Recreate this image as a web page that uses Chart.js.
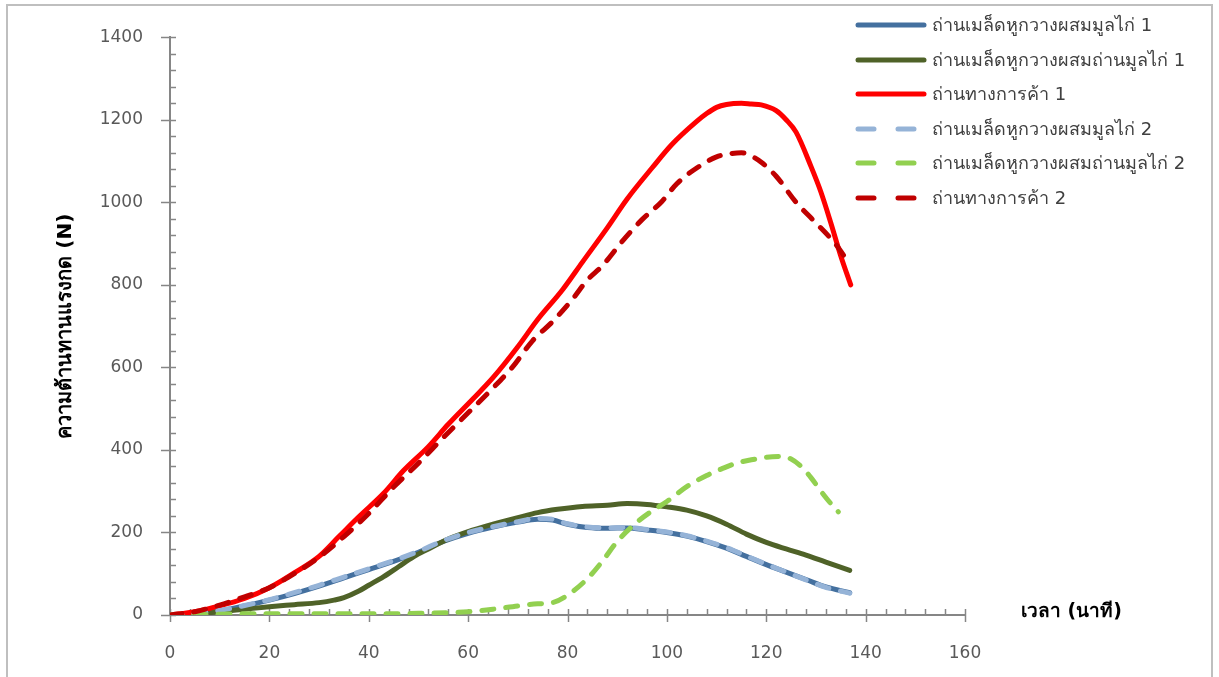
<!DOCTYPE html>
<html>
<head>
<meta charset="utf-8">
<script src="https://cdn.jsdelivr.net/npm/chart.js@4.4.1/dist/chart.umd.min.js"></script>
<style>
  html, body { margin: 0; padding: 0; background: #fff; }
  #wrap { position: relative; width: 1219px; height: 677px; }
</style>
</head>
<body>
<div id="wrap"><canvas id="c"></canvas></div>
<script>
// Compressive strength over time for three charcoal types, two runs each.
// Values (minutes, newtons).

const SERIES_NAMES = [
  "ถ่านเมล็ดหูกวางผสมมูลไก่ 1",
  "ถ่านเมล็ดหูกวางผสมถ่านมูลไก่ 1",
  "ถ่านทางการค้า 1",
  "ถ่านเมล็ดหูกวางผสมมูลไก่ 2",
  "ถ่านเมล็ดหูกวางผสมถ่านมูลไก่ 2",
  "ถ่านทางการค้า 2",
];

const X_TICKS = [0, 20, 40, 60, 80, 100, 120, 140, 160];
const Y_TICKS = [0, 200, 400, 600, 800, 1000, 1200, 1400];

// run 1 — chicken-manure blend (blue)
const T_BLUE1 = [0, 5, 10, 15, 20, 25, 30, 35, 40, 45, 50, 55, 60, 65, 70, 74, 77, 80, 84, 88, 92, 96, 100, 104, 108, 112, 116, 120, 124, 128, 132, 136.8];
const V_BLUE1 = [0, 3, 10, 22, 36, 52, 70, 90, 110, 130, 152, 178, 198, 213, 225, 232, 230, 220, 212, 210, 211, 206, 200, 191, 178, 162, 142, 122, 104, 86, 68, 54];

// run 1 — manure-charcoal blend (olive)
const T_GREEN1 = [0, 5, 10, 15, 20, 25, 30, 33, 35, 38, 40, 43, 46, 49, 52, 56, 60, 65, 70, 74, 78, 83, 88, 92, 96, 100, 104, 108, 112, 116, 120, 124, 128, 132, 136.8];
const V_GREEN1 = [0, 3, 8, 14, 20, 25, 30, 36, 42, 58, 72, 93, 117, 141, 160, 184, 202, 220, 236, 248, 256, 263, 266, 270, 268, 262, 254, 240, 220, 196, 176, 160, 145, 128, 108];

// run 1 — commercial charcoal (red)
const T_RED1 = [0, 5, 10, 15, 20, 25, 30, 34, 38, 43, 47, 52, 56, 61, 65, 70, 74, 79, 83, 88, 92, 97, 101, 106, 108, 110, 112, 115, 117, 119, 122, 124, 126, 129, 131, 133, 135, 137];
const V_RED1 = [0, 8, 22, 40, 66, 102, 142, 190, 238, 295, 350, 408, 462, 524, 575, 650, 716, 788, 855, 938, 1008, 1083, 1140, 1196, 1215, 1230, 1237, 1240, 1238, 1236, 1222, 1200, 1170, 1087, 1025, 950, 870, 800];

// run 2 — chicken-manure blend (light blue)
const T_BLUE2 = [0, 5, 10, 15, 20, 25, 30, 35, 40, 45, 50, 55, 60, 65, 70, 74, 77, 80, 84, 88, 92, 96, 100, 104, 108, 112, 116, 120, 124, 128, 132, 136.8];
const V_BLUE2 = [0, 3, 11, 23, 37, 54, 72, 92, 112, 132, 154, 180, 200, 214, 226, 234, 232, 221, 213, 211, 212, 207, 201, 192, 179, 163, 143, 123, 104, 85, 67, 53];

// run 2 — manure-charcoal blend (light green)
const T_GREEN2 = [0, 5, 10, 15, 20, 30, 40, 50, 60, 65, 70, 74, 77, 80, 84, 87, 90, 94, 97, 100, 104, 108, 111, 114, 117, 120, 123, 125, 127, 129, 131, 133, 134.5];
const V_GREEN2 = [0, 1, 2, 3, 3, 3, 3, 4, 8, 14, 22, 27, 30, 48, 88, 130, 178, 225, 252, 275, 311, 338, 354, 368, 376, 382, 384, 378, 360, 333, 300, 270, 250];

// run 2 — commercial charcoal (dark red)
const T_RED2 = [0, 5, 10, 15, 20, 25, 30, 35, 40, 45, 50, 55, 60, 65, 69, 73, 77, 81, 84, 87, 91, 95, 99, 102, 106, 110, 113, 115, 117, 119, 122, 126, 130, 134, 136.5];
const V_RED2 = [0, 8, 24, 44, 66, 100, 140, 190, 246, 310, 368, 430, 490, 550, 602, 665, 711, 765, 812, 846, 905, 958, 1002, 1045, 1083, 1110, 1118, 1120, 1112, 1097, 1063, 1000, 950, 898, 855];

const COLORS = ["#44709F", "#4F6228", "#FF0000", "#95B3D7", "#92D050", "#C00000"];
const DASHED = [false, false, false, true, true, true];

const pts = (ts, vs) => ts.map((t, i) => ({ x: t, y: vs[i] }));
const SERIES_DATA = [
  pts(T_BLUE1, V_BLUE1),
  pts(T_GREEN1, V_GREEN1),
  pts(T_RED1, V_RED1),
  pts(T_BLUE2, V_BLUE2),
  pts(T_GREEN2, V_GREEN2),
  pts(T_RED2, V_RED2),
];

const AXIS_GRAY = "#868686";
const LABEL_GRAY = "#595959";
const FONT = "'DejaVu Sans', Tahoma, sans-serif";

// minor/major tick marks that cross the axis line, Excel style
const tickMarks = {
  id: "tickMarks",
  beforeDatasetsDraw(chart) {
    const { ctx, scales: { x, y } } = chart;
    ctx.save();
    ctx.strokeStyle = AXIS_GRAY;
    ctx.lineWidth = 1.5;
    const x0 = x.getPixelForValue(0);
    for (let v = 0; v <= 1400; v += 40) {
      const py = Math.round(y.getPixelForValue(v)) + 0.5;
      const major = v % 200 === 0;
      ctx.beginPath();
      ctx.moveTo(x0 - (major ? 9 : 0), py);
      ctx.lineTo(x0 + 6, py);
      ctx.stroke();
    }
    const y0 = y.getPixelForValue(0);
    for (let t = 0; t <= 160; t += 4) {
      const px = Math.round(x.getPixelForValue(t)) + 0.5;
      const major = t % 20 === 0;
      ctx.beginPath();
      ctx.moveTo(px, y0 - 6);
      ctx.lineTo(px, y0 + (major ? 7 : 0));
      ctx.stroke();
    }
    ctx.restore();
  },
};

// frame, x-axis caption beside the axis end, and the legend in the top-right
const decorations = {
  id: "decorations",
  beforeDraw(chart) {
    const { ctx } = chart;
    ctx.save();
    ctx.fillStyle = "#fff";
    ctx.fillRect(0, 0, chart.width, chart.height);
    ctx.strokeStyle = "#BFBFBF";
    ctx.lineWidth = 2;
    ctx.strokeRect(7, 5, 1205, 700);
    ctx.restore();
  },
  afterDraw(chart) {
    const { ctx, scales: { x, y } } = chart;
    ctx.save();
    ctx.fillStyle = "#000";
    ctx.font = "bold 19px " + FONT;
    ctx.textBaseline = "middle";
    ctx.fillText("เวลา (นาที)", x.getPixelForValue(160) + 56, y.getPixelForValue(0) - 3);

    const rowY = [25, 60, 94, 129, 163, 198];
    ctx.font = "18px " + FONT;
    SERIES_NAMES.forEach((name, i) => {
      ctx.strokeStyle = COLORS[i];
      ctx.lineWidth = 5;
      ctx.lineCap = "round";
      ctx.setLineDash(DASHED[i] ? [16, 24] : []);
      ctx.beginPath();
      ctx.moveTo(858, rowY[i]);
      ctx.lineTo(924, rowY[i]);
      ctx.stroke();
      ctx.setLineDash([]);
      ctx.fillStyle = "#404040";
      ctx.fillText(name, 932, rowY[i] + 1);
    });
    ctx.restore();
  },
};

new Chart(document.getElementById("c"), {
  type: "line",
  data: {
    datasets: SERIES_NAMES.map((name, i) => ({
      label: name,
      data: SERIES_DATA[i],
      borderColor: COLORS[i],
      backgroundColor: COLORS[i],
      borderWidth: 5,
      borderDash: DASHED[i] ? [12, 12] : [],
      borderCapStyle: "round",
      pointRadius: 0,
      fill: false,
      cubicInterpolationMode: "monotone",
      order: SERIES_NAMES.length - i, // later series drawn on top, like the original
    })),
  },
  options: {
    responsive: true,
    maintainAspectRatio: false,
    animation: false,
    layout: { padding: { top: 37, right: 254, bottom: 0, left: 0 } },
    plugins: {
      legend: { display: false },
      tooltip: { enabled: false },
    },
    scales: {
      x: {
        type: "linear",
        min: 0,
        max: 160,
        afterBuildTicks: (s) => { s.ticks = X_TICKS.map((v) => ({ value: v })); },
        afterFit: (s) => { s.height = 62; },
        grid: { display: false, drawTicks: false },
        border: { display: true, color: AXIS_GRAY, width: 2 },
        ticks: { padding: 28, color: LABEL_GRAY, font: { family: FONT, size: 17 }, callback: (v) => String(v) },
      },
      y: {
        type: "linear",
        min: 0,
        max: 1400,
        afterBuildTicks: (s) => { s.ticks = Y_TICKS.map((v) => ({ value: v })); },
        afterFit: (s) => { s.width = 170; },
        grid: { display: false, drawTicks: false },
        border: { display: true, color: AXIS_GRAY, width: 2 },
        ticks: { padding: 27, color: LABEL_GRAY, font: { family: FONT, size: 17 }, callback: (v) => String(v) },
        title: {
          display: true,
          text: "ความต้านทานแรงกด (N)",
          color: "#000",
          font: { family: FONT, size: 20, weight: "bold" },
          padding: { top: 54, bottom: 0 },
        },
      },
    },
  },
  plugins: [tickMarks, decorations],
});
</script>
</body>
</html>
